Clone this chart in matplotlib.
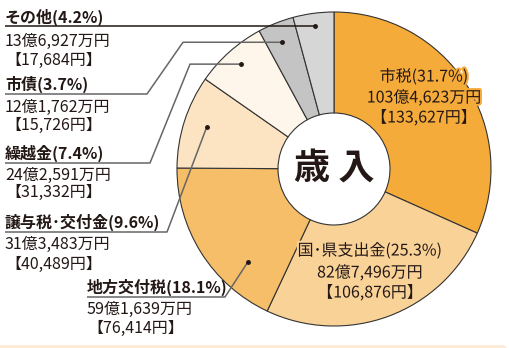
import numpy as np
import matplotlib
matplotlib.use('Agg')
import matplotlib.pyplot as plt
import matplotlib.patheffects as pe
from matplotlib.patches import FancyBboxPatch

plt.rcParams['font.family'] = ['Noto Sans CJK JP', 'DejaVu Sans']

# Revenue breakdown (clockwise from 12 o'clock)
categories = ['市税', '国･県支出金', '地方交付税', '譲与税･交付金', '繰越金', '市債', 'その他']
shares = [31.7, 25.3, 18.1, 9.6, 7.4, 3.7, 4.2]
amount_oku = [103, 82, 59, 31, 24, 12, 13]
amount_man = [4623, 7496, 1639, 3483, 2591, 1762, 6927]
per_capita = [133627, 106876, 76414, 40489, 31332, 15726, 17684]
colors = ['#F5AB3A', '#F9D297', '#F6BE69', '#FCE4C3', '#FEF6EA', '#C4C4C4', '#D6D6D6']

W, H = 510, 348
CX, CY, R, HOLE = 334, H - 169, 157, 56
FS = 11.5


def iy(y):
    # image-style y (from top) to axes y
    return H - y


fig = plt.figure(figsize=(W / 100, H / 100), dpi=100)
ax = fig.add_axes([0, 0, 1, 1])

ax.pie(shares, startangle=90, counterclock=False, colors=colors,
       center=(CX, CY), radius=R,
       wedgeprops=dict(width=R - HOLE, edgecolor='#333333', linewidth=0.8))
ax.set_xlim(0, W)
ax.set_ylim(0, H)
ax.set_aspect('equal')
ax.axis('off')

ax.text(CX, CY + 1, '歳 入', ha='center', va='center', fontsize=26,
        fontweight='bold', color='#231815')

# slice start angles, clockwise from top
starts = np.concatenate([[0], np.cumsum(shares)[:-1]]) * 3.6
spans = np.array(shares) * 3.6


def slice_point(i, frac, r):
    theta = np.deg2rad(90 - (starts[i] + frac * spans[i]))
    return CX + r * np.cos(theta), CY + r * np.sin(theta)


def label_lines(i):
    return (f'{categories[i]}({shares[i]}%)',
            f'{amount_oku[i]}億{amount_man[i]:,}万円',
            f'【{per_capita[i]:,}円】')


# labels inside the ring: index, x centre, y of each line
inner = [(0, 424, (77, 98, 118)), (1, 370, (251, 273, 293))]
for i, x, ys in inner:
    for txt, y in zip(label_lines(i), ys):
        ax.text(x, iy(y), txt, ha='center', va='center', fontsize=FS,
                color='#231815',
                path_effects=[pe.withStroke(linewidth=3, foreground=colors[i])])

# labels on the left with leader lines:
# index, text x, line ys, underline y, underline end x, elbow x, dot frac, dot radius
outer = [
    (6, 5, (17, 41, 60), 26, None, None, 0.50, 144),
    (5, 5, (84, 107, 125), 94, 147, 183, 0.46, 137),
    (4, 5, (153, 175, 192), 163, 150, 190, 0.51, 140),
    (3, 5, (222, 244, 264), 232, 167, None, 0.52, 134),
    (2, 87, (287, 309, 328), 297, 225, None, 0.27, 127),
]
for i, x, ys, uy, ux, ex, frac, r in outer:
    head, amt, pc = label_lines(i)
    ax.text(x, iy(ys[0]), head, ha='left', va='center', fontsize=FS,
            fontweight='bold', color='#231815')
    ax.text(x, iy(ys[1]), amt, ha='left', va='center', fontsize=FS, color='#231815')
    ax.text(x, iy(ys[2]), pc, ha='left', va='center', fontsize=FS, color='#231815')

    dx, dy = slice_point(i, frac, r)
    if ux is None:
        px, py = [x, dx], [dy, dy]
        lc = '#231815'
    else:
        px, py = [x, ux], [iy(uy), iy(uy)]
        if ex is not None:
            px.append(ex)
            py.append(dy)
        px.append(dx)
        py.append(dy)
        lc = '#666666'
    ax.plot(px, py, color=lc, linewidth=1.1, solid_capstyle='butt', zorder=3)
    ax.plot(dx, dy, 'o', color='#231815', markersize=2.5, zorder=4)

# peach strip along the bottom edge
ax.add_patch(FancyBboxPatch((-20, -20), W - 3 + 20, 23,
                            boxstyle='round,pad=0,rounding_size=5',
                            facecolor='#FDEBD7', edgecolor='none', zorder=0))

fig.savefig('out.png', dpi=100)
